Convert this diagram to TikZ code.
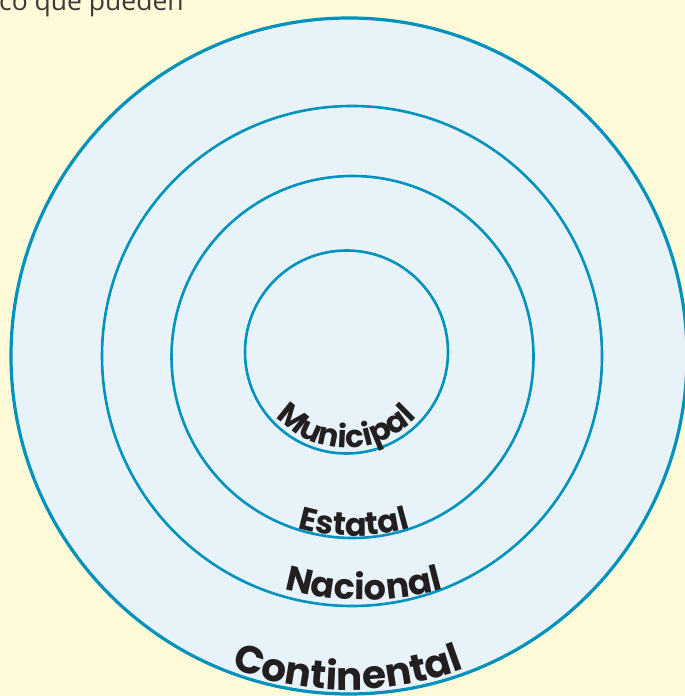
\documentclass[tikz,border=0pt]{standalone}
\usepackage{fontspec}
\usetikzlibrary{decorations.text}
\setmainfont{Open Sans}
\newfontfamily\ringfont{Poppins}
\definecolor{paperyellow}{HTML}{FFFAD7}
\definecolor{ringblue}{HTML}{0092BC}
\definecolor{ringfill}{HTML}{E7F3F9}
\definecolor{inkblack}{HTML}{231F20}
\definecolor{inkgray}{HTML}{3A3A3A}
\newcommand\munifont{\ringfont\bfseries\fontsize{31}{36}\selectfont}
\newcommand\estafont{\ringfont\bfseries\fontsize{32}{38}\selectfont}
\newcommand\nacifont{\ringfont\bfseries\fontsize{35}{42}\selectfont}
\newcommand\contfont{\ringfont\bfseries\fontsize{39}{46}\selectfont}
\tikzset{
  ring/.style={draw=ringblue,circle,line width=2.6pt,inner sep=0pt},
  ringlabel/.style={decorate,decoration={text along path,text align=center,
    text color=inkblack}}
}

\begin{document}
\begin{tikzpicture}[x=1pt,y=1pt]
  \useasboundingbox (0,0) rectangle (685,696);
  \fill[paperyellow] (0,0) rectangle (685,696);

  % Text cut off at the top
  \node[anchor=base west,inner sep=0pt,text=inkgray,
    font=\fontsize{26.5}{30}\selectfont] (intro) at (-1,685) {co que pueden};

  % Rings
  \node[ring,line width=3.2pt,fill=ringfill,minimum size=676pt] (continental) at (349,340) {};
  \node[ring,minimum size=500pt] (nacional) at (352,340) {};
  \node[ring,minimum size=362pt] (estatal) at (352.5,339) {};
  \node[ring,minimum size=203pt] (municipal) at (346.5,344) {};

  % Curved labels
  \path[ringlabel,decoration={text={|\munifont|Municipal}}]
    (346.5,344) ++(200:96) arc[start angle=200,end angle=340,radius=96];
  \path[ringlabel,decoration={text={|\estafont|Estatal}}]
    (354,360) ++(240:200) arc[start angle=240,end angle=300,radius=200];
  \path[ringlabel,decoration={text={|\nacifont|Nacional}}]
    (364,396) ++(245:300) arc[start angle=245,end angle=295,radius=300];
  \path[ringlabel,decoration={text={|\contfont|Continental}}]
    (348,336) ++(240:330) arc[start angle=240,end angle=300,radius=330];
\end{tikzpicture}
\end{document}
